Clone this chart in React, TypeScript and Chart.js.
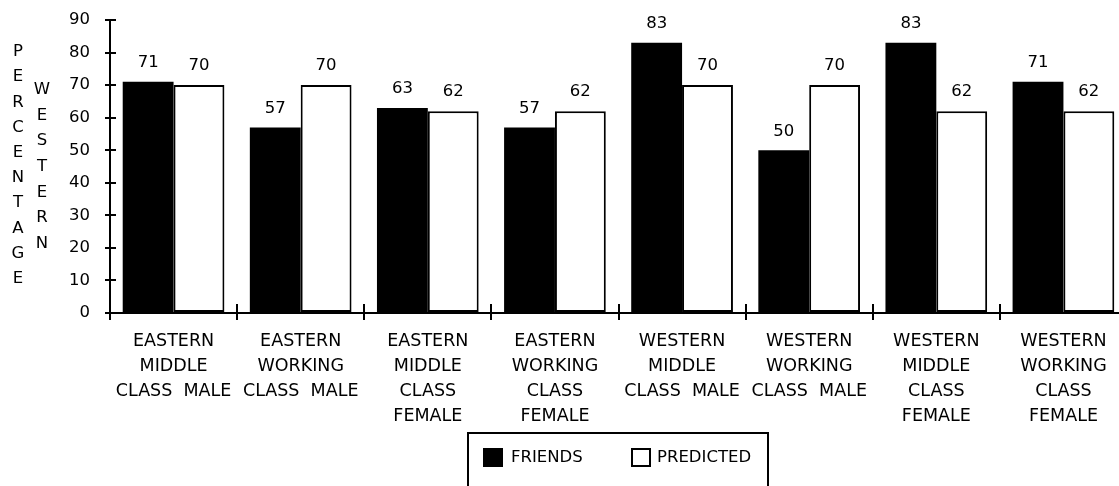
import React, { useEffect, useRef } from "react";
import { Chart, registerables } from "chart.js";

Chart.register(...registerables);

const CATEGORIES: string[][] = [
  ["EASTERN", "MIDDLE", "CLASS  MALE"],
  ["EASTERN", "WORKING", "CLASS  MALE"],
  ["EASTERN", "MIDDLE", "CLASS", "FEMALE"],
  ["EASTERN", "WORKING", "CLASS", "FEMALE"],
  ["WESTERN", "MIDDLE", "CLASS  MALE"],
  ["WESTERN", "WORKING", "CLASS  MALE"],
  ["WESTERN", "MIDDLE", "CLASS", "FEMALE"],
  ["WESTERN", "WORKING", "CLASS", "FEMALE"],
];
const FRIENDS = [71, 57, 63, 57, 83, 50, 83, 71];
const PREDICTED = [70, 70, 62, 62, 70, 70, 62, 62];
const SERIES_NAMES = ["FRIENDS", "PREDICTED"];
const Y_TICKS = [0, 10, 20, 30, 40, 50, 60, 70, 80, 90];
const Y_TITLE_1 = "PERCENTAGE";
const Y_TITLE_2 = "WESTERN";

const FONT = "DejaVu Sans";

const decorPlugin = {
  id: "decor",
  beforeDraw(chart: any) {
    const ctx = chart.ctx;
    ctx.save();
    ctx.fillStyle = "#fff";
    ctx.fillRect(0, 0, chart.width, chart.height);
    ctx.restore();
  },
  afterDraw(chart: any) {
    const ctx = chart.ctx;
    const ca = chart.chartArea;
    const ys = chart.scales.y;
    ctx.save();
    ctx.strokeStyle = "#000";
    ctx.lineWidth = 2;
    Y_TICKS.forEach((v) => {
      const y = Math.round(ys.getPixelForValue(v));
      ctx.beginPath();
      ctx.moveTo(ca.left, y);
      ctx.lineTo(ca.left + 6, y);
      ctx.stroke();
    });
    const n = CATEGORIES.length;
    const w = (ca.right - ca.left) / n;
    for (let i = 0; i <= n; i++) {
      const x = Math.round(ca.left + i * w);
      ctx.beginPath();
      ctx.moveTo(x, ca.bottom - 9);
      ctx.lineTo(x, ca.bottom);
      ctx.stroke();
    }
    ctx.fillStyle = "#000";
    ctx.font = `16.5px "${FONT}"`;
    ctx.textAlign = "center";
    ctx.textBaseline = "middle";
    chart.data.datasets.forEach((ds: any, di: number) => {
      const meta = chart.getDatasetMeta(di);
      meta.data.forEach((bar: any, i: number) => {
        ctx.fillText(String(ds.data[i]), bar.x, bar.y - 19);
      });
    });
    ctx.font = `16.5px "${FONT}"`;
    Y_TITLE_1.split("").forEach((ch, i) => {
      ctx.fillText(ch, 18, 52 + i * 25.2);
    });
    Y_TITLE_2.split("").forEach((ch, i) => {
      ctx.fillText(ch, 42, 90 + i * 25.6);
    });
    const cx = (ca.left + ca.right) / 2;
    const bl = Math.round(cx - 151);
    const bt = 433;
    ctx.lineWidth = 2;
    ctx.strokeRect(bl, bt, 300, 120);
    ctx.fillRect(bl + 15, 448, 20, 19);
    ctx.strokeRect(bl + 164, 449, 18, 17);
    ctx.textAlign = "left";
    ctx.font = `16.5px "${FONT}"`;
    ctx.fillText(SERIES_NAMES[0], bl + 43, 458);
    ctx.fillText(SERIES_NAMES[1], bl + 189, 458);
    ctx.restore();
  },
};

export default function App() {
  const ref = useRef<HTMLCanvasElement | null>(null);
  useEffect(() => {
    if (!ref.current) return;
    const chart = new Chart(ref.current, {
      type: "bar",
      data: {
        labels: CATEGORIES,
        datasets: [
          {
            label: SERIES_NAMES[0],
            data: FRIENDS,
            backgroundColor: "#000",
            borderColor: "#000",
            borderWidth: 0,
            categoryPercentage: 0.8,
            barPercentage: 1.0,
          },
          {
            label: SERIES_NAMES[1],
            data: PREDICTED,
            backgroundColor: "#fff",
            borderColor: "#000",
            borderWidth: 2,
            borderSkipped: false,
            categoryPercentage: 0.8,
            barPercentage: 1.0,
          },
        ],
      },
      options: {
        responsive: false,
        animation: false,
        devicePixelRatio: 1,
        layout: { padding: { top: 20, right: 0, left: 0, bottom: 0 } },
        plugins: {
          legend: { display: false },
          tooltip: { enabled: false },
          title: { display: false },
        },
        scales: {
          x: {
            offset: true,
            grid: {
              display: true,
              offset: true,
              drawOnChartArea: false,
              drawTicks: true,
              tickLength: 7,
              color: "#000",
              lineWidth: 2,
            },
            border: { display: true, color: "#000", width: 2 },
            ticks: {
              color: "#000",
              padding: 9,
              maxRotation: 0,
              autoSkip: false,
              font: { family: FONT, size: 17.5, lineHeight: "25px" },
            },
            afterFit: (scale: any) => {
              scale.height = 486 - 313;
              scale.paddingLeft = 0;
              scale.paddingRight = 0;
            },
          },
          y: {
            min: 0,
            max: 90,
            grid: {
              display: true,
              drawOnChartArea: false,
              drawTicks: true,
              tickLength: 5,
              color: "#000",
              lineWidth: 2,
            },
            border: { display: true, color: "#000", width: 2 },
            ticks: {
              stepSize: 10,
              color: "#000",
              padding: 15,
              font: { family: FONT, size: 16.5 },
            },
            afterFit: (scale: any) => {
              scale.width = 110;
              scale.paddingTop = 0;
              scale.paddingBottom = 0;
            },
          },
        },
      },
      plugins: [decorPlugin],
    });
    return () => chart.destroy();
  }, []);
  return (
    <div
      style={{
        position: "absolute",
        left: 0,
        top: 0,
        width: 1119,
        height: 486,
        overflow: "hidden",
        background: "#fff",
      }}
    >
      <canvas ref={ref} width={1127} height={486} style={{ display: "block" }} />
    </div>
  );
}
